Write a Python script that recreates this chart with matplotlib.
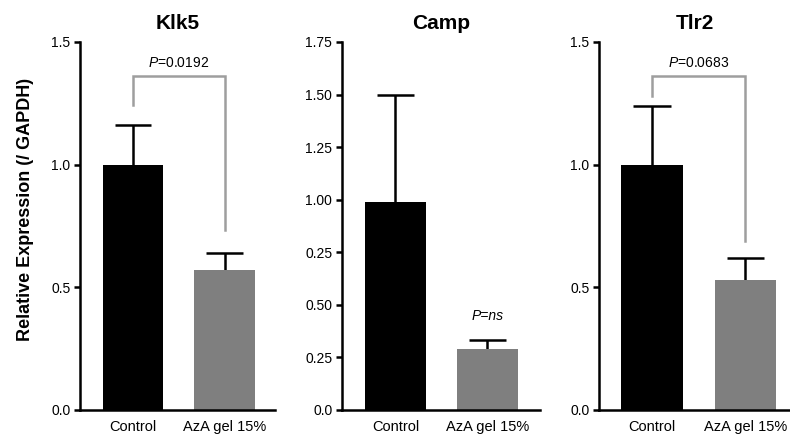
import numpy as np
import matplotlib
matplotlib.use("Agg")
import matplotlib.pyplot as plt

plt.rcParams['font.family'] = ['Liberation Sans', 'DejaVu Sans']
plt.rcParams['mathtext.fontset'] = 'custom'
plt.rcParams['mathtext.it'] = 'Liberation Sans:italic'
plt.rcParams['mathtext.rm'] = 'Liberation Sans'

# data
groups = ["Control", "AzA gel 15%"]
genes = ["Klk5", "Camp", "Tlr2"]
klk5_mean = [1.00, 0.57]
klk5_err = [0.16, 0.068]
camp_mean = [0.99, 0.29]
camp_err = [0.51, 0.045]
tlr2_mean = [1.00, 0.53]
tlr2_err = [0.24, 0.09]

klk5_ticks = [0.0, 0.5, 1.0, 1.5]
klk5_ticklabels = ["0.0", "0.5", "1.0", "1.5"]
camp_ticks = [0.0, 0.25, 0.5, 0.75, 1.0, 1.25, 1.5, 1.75]
camp_ticklabels = ["0.0", "0.25", "0.50", "0.25", "1.00", "1.25", "1.50", "1.75"]
tlr2_ticks = [0.0, 0.5, 1.0, 1.5]
tlr2_ticklabels = ["0.0", "0.5", "1.0", "1.5"]

# bracket: (top, left leg end, right leg end), label
klk5_bracket = (1.36, 1.245, 0.735)
klk5_p = "$\\mathit{P}$=0.0192"
tlr2_bracket = (1.36, 1.28, 0.69)
tlr2_p = "$\\mathit{P}$=0.0683"
camp_p = "P=ns"

bar_colors = ["#000000", "#7f7f7f"]
bracket_color = "#9e9e9e"

fig = plt.figure(figsize=(7.9, 4.43), dpi=100)
bottom, height = 0.0745, 0.8307
ax1 = fig.add_axes([0.1013, bottom, 0.2468, height])
ax2 = fig.add_axes([0.4329, bottom, 0.2506, height])
ax3 = fig.add_axes([0.7582, bottom, 0.2418, height])

panels = [
    (ax1, klk5_mean, klk5_err, 1.5, klk5_ticks, klk5_ticklabels, (-0.58, 1.55)),
    (ax2, camp_mean, camp_err, 1.75, camp_ticks, camp_ticklabels, (-0.58, 1.57)),
    (ax3, tlr2_mean, tlr2_err, 1.5, tlr2_ticks, tlr2_ticklabels, (-0.57, 1.48)),
]

x = np.arange(len(groups))
cap_half = 0.2
for (ax, mean, err, ymax, ticks, tlabels, xl), gene in zip(panels, genes):
    mean = np.array(mean)
    err = np.array(err)
    ax.bar(x, mean, width=0.66, color=bar_colors, zorder=2)
    # upper error bars only
    ax.vlines(x, mean, mean + err, color='black', lw=1.8, zorder=1)
    ax.hlines(mean + err, x - cap_half, x + cap_half, color='black', lw=1.8, zorder=1)
    ax.set_ylim(0, ymax)
    ax.set_xlim(*xl)
    ax.set_yticks(ticks)
    ax.set_yticklabels(tlabels, fontsize=12)
    ax.set_xticks(x)
    ax.set_xticklabels(groups, fontsize=10.5)
    ax.tick_params(axis='x', length=0, pad=7)
    ax.tick_params(axis='y', length=4, width=1.8, pad=3)
    for s in ['top', 'right']:
        ax.spines[s].set_visible(False)
    for s in ['left', 'bottom']:
        ax.spines[s].set_linewidth(1.8)
    ax.spines['left'].set_position(('data', xl[0]))
    ax.set_title(gene, fontsize=15, fontweight='bold', pad=9)

for ax, br, ptxt in [(ax1, klk5_bracket, klk5_p), (ax3, tlr2_bracket, tlr2_p)]:
    top, l, r = br
    ax.plot([0, 0, 1, 1], [l, top, top, r], color=bracket_color, lw=1.8,
            solid_joinstyle='miter', clip_on=False)
    ax.text(0.5, top + 0.025, ptxt, ha='center', va='bottom', fontsize=10)

ax2.text(1, camp_mean[1] + camp_err[1] + 0.08, camp_p, ha='center', va='bottom',
         fontsize=10, fontstyle='italic')

fig.text(0.032, 0.527, "Relative Expression (/ GAPDH)", rotation=90, ha='center',
         va='center', fontsize=13, fontweight='bold')

fig.savefig("out.png", dpi=100)
